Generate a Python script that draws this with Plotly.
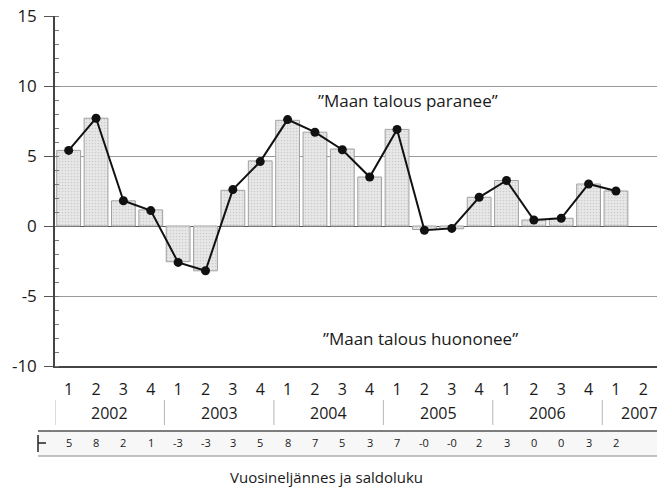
import plotly.graph_objects as go

quarters = ["1", "2", "3", "4"] * 5 + ["1", "2"]
years = ["2002", "2003", "2004", "2005", "2006", "2007"]
year_centers = [1.5, 5.5, 9.5, 13.5, 17.5, 20.85]
year_separators = [-0.5, 3.5, 7.5, 11.5, 15.5, 19.5]
y_tickvals = [-10, -5, 0, 5, 10, 15]
y_ticktext = ["-10", "-5", "0", "5", "10", "15"]
bar_values = [5.4, 7.7, 1.8, 1.15, -2.55, -3.2, 2.55, 4.65, 7.55, 6.7, 5.5, 3.5,
              6.9, -0.25, -0.2, 2.05, 3.25, 0.43, 0.55, 3.0, 2.5, None]
line_values = [5.4, 7.7, 1.8, 1.1, -2.6, -3.2, 2.6, 4.6, 7.6, 6.7, 5.45, 3.5,
               6.9, -0.3, -0.17, 2.05, 3.25, 0.43, 0.55, 3.0, 2.5, None]
table_labels = ["5", "8", "2", "1", "-3", "-3", "3", "5", "8", "7", "5", "3",
                "7", "-0", "-0", "2", "3", "0", "0", "3", "2", ""]
text_up = "”Maan talous paranee”"
text_down = "”Maan talous huononee”"
x_title = "Vuosineljännes ja saldoluku"

FONT = "Open Sans"
TC = "#1a1a1a"
x = list(range(len(quarters)))

fig = go.Figure()
fig.add_trace(go.Bar(
    x=x, y=bar_values, width=0.87,
    marker=dict(color="#e4e4e4",
                line=dict(color="#a0a0a0", width=1),
                pattern=dict(shape=".", size=3, solidity=0.25,
                             fgcolor="#b0b0b0", bgcolor="#e8e8e8")),
    showlegend=False, hoverinfo="skip"))
fig.add_trace(go.Scatter(
    x=x, y=line_values, mode="lines+markers",
    line=dict(color="#111111", width=2),
    marker=dict(color="#111111", size=9),
    showlegend=False, hoverinfo="skip"))

H_PLOT = 350.0
W_PLOT = 602.0
def py(pix_below_axis):
    return -pix_below_axis / H_PLOT
def px(pix_x):
    return (pix_x - 55) / W_PLOT

TXT = dict(showarrow=False, xanchor="center", yanchor="middle")
ann = []
ann.append(dict(x=12.4, y=9.0, xref="x", yref="y", text=text_up,
                font=dict(family=FONT, size=17, color=TC), **TXT))
ann.append(dict(x=12.85, y=-8.0, xref="x", yref="y", text=text_down,
                font=dict(family=FONT, size=17, color=TC), **TXT))
for yc, yl in zip(year_centers, years):
    ann.append(dict(x=yc, y=py(47), xref="x", yref="paper", text=yl,
                    font=dict(family=FONT, size=16, color=TC), **TXT))
for xi, tl in zip(x, table_labels):
    if tl:
        ann.append(dict(x=xi, y=py(76), xref="x", yref="paper", text=tl,
                        font=dict(family=FONT, size=11, color=TC), **TXT))
ann.append(dict(x=px(326), y=py(111), xref="paper", yref="paper", text=x_title,
                font=dict(family=FONT, size=15, color=TC), **TXT))

shapes = []
for s in year_separators:
    shapes.append(dict(type="line", xref="x", yref="paper", x0=s, x1=s,
                       y0=py(34), y1=py(59), line=dict(color="#b5b5b5", width=1)))
shapes.append(dict(type="rect", xref="paper", yref="paper", x0=px(38), x1=1.01,
                   y0=py(90), y1=py(65), fillcolor="#f7f7f7",
                   line=dict(width=0), layer="below"))
shapes.append(dict(type="line", xref="paper", yref="paper", x0=px(38), x1=1.01,
                   y0=py(65), y1=py(65), line=dict(color="#555", width=1.5)))
shapes.append(dict(type="line", xref="paper", yref="paper", x0=px(38), x1=1.01,
                   y0=py(90), y1=py(90), line=dict(color="#888", width=1)))
shapes.append(dict(type="line", xref="paper", yref="paper", x0=px(38), x1=px(38),
                   y0=py(69), y1=py(86), line=dict(color="#222", width=1.5)))
shapes.append(dict(type="line", xref="paper", yref="paper", x0=px(38),
                   x1=px(46), y0=py(77), y1=py(77),
                   line=dict(color="#222", width=1.5)))

fig.update_layout(
    width=657, height=491,
    margin=dict(l=55, r=0, t=16, b=125, autoexpand=False),
    paper_bgcolor="white", plot_bgcolor="white",
    font=dict(family=FONT, size=15, color=TC),
    annotations=ann, shapes=shapes,
    xaxis=dict(range=[-0.5, 21.5], tickvals=x, ticktext=quarters,
               showgrid=False, zeroline=False, ticks="", automargin=False,
               showline=True, linecolor="#444", linewidth=1.5,
               tickfont=dict(family=FONT, size=16, color=TC),
               ticklabelstandoff=8, fixedrange=True),
    yaxis=dict(range=[-10, 15], tickvals=y_tickvals, ticktext=y_ticktext, automargin=False,
               showgrid=True, gridcolor="#9a9a9a", gridwidth=1,
               zeroline=True, zerolinecolor="#555", zerolinewidth=1.2,
               showline=True, linecolor="#444", linewidth=1.5,
               ticks="outside", ticklen=9, tickcolor="#555",
               minor=dict(dtick=1, tick0=0, ticks="inside", ticklen=4, tickcolor="#777", showgrid=False),
               tickfont=dict(family=FONT, size=17, color=TC),
               ticklabelstandoff=4, fixedrange=True),
)

fig.write_html("out.html", config=dict(displayModeBar=False),
               post_script="document.body.style.margin='0';document.body.style.overflow='hidden';")
